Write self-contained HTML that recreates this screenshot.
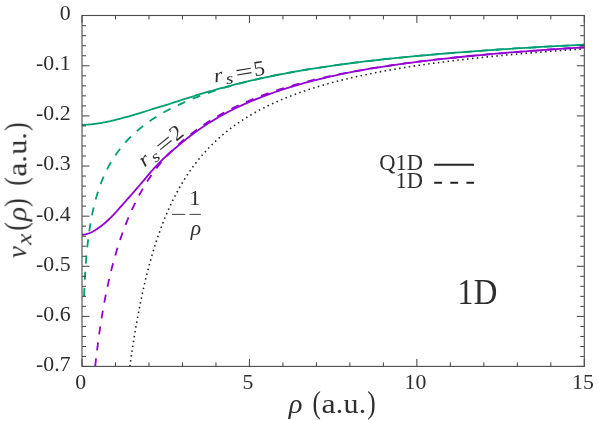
<!DOCTYPE html>
<html><head><meta charset="utf-8"><title>plot</title>
<style>
html,body{margin:0;padding:0;background:#fff;}
body{width:598px;height:421px;overflow:hidden;}
svg{display:block;font-family:"Liberation Serif",serif;}
text{fill:#2c2c2c;}
.i{font-style:italic;}
</style></head><body>
<svg width="598" height="421" viewBox="0 0 598 421">
<rect width="598" height="421" fill="#fff"/>
<defs><clipPath id="cp"><rect x="82.0" y="15.5" width="502.29999999999995" height="350.9"/></clipPath></defs>
<g clip-path="url(#cp)" fill="none" stroke-width="1.8" stroke-linejoin="round">
<path d="M129.84,366.40 L130.02,365.04 L131.59,353.99 L133.16,343.62 L134.73,333.86 L136.30,324.67 L137.86,315.99 L139.43,307.79 L141.00,300.02 L142.57,292.65 L144.14,285.66 L145.70,279.01 L147.27,272.68 L148.84,266.65 L150.41,260.89 L151.97,255.39 L153.54,250.13 L155.11,245.10 L156.68,240.28 L158.25,235.66 L159.81,231.22 L161.38,226.96 L162.95,222.87 L164.52,218.93 L166.09,215.13 L167.65,211.48 L169.22,207.96 L170.79,204.56 L172.36,201.28 L173.93,198.11 L175.49,195.05 L177.06,192.08 L178.63,189.22 L180.20,186.44 L181.77,183.76 L183.33,181.15 L184.90,178.63 L186.47,176.18 L188.04,173.81 L189.61,171.50 L191.17,169.26 L192.74,167.08 L194.31,164.97 L195.88,162.91 L197.45,160.91 L199.01,158.96 L200.58,157.06 L202.15,155.21 L203.72,153.41 L205.28,151.66 L206.85,149.95 L208.42,148.28 L209.99,146.66 L211.56,145.07 L213.12,143.52 L214.69,142.01 L216.26,140.53 L217.83,139.09 L219.40,137.68 L220.96,136.30 L222.53,134.95 L224.10,133.63 L225.67,132.34 L227.24,131.08 L228.80,129.85 L230.37,128.64 L231.94,127.45 L233.51,126.30 L235.08,125.16 L236.64,124.05 L238.21,122.96 L239.78,121.89 L241.35,120.84 L242.92,119.82 L244.48,118.81 L246.05,117.82 L247.62,116.86 L249.19,115.90 L250.75,114.97 L252.32,114.06 L253.89,113.16 L255.46,112.27 L257.03,111.41 L258.59,110.56 L260.16,109.72 L261.73,108.90 L263.30,108.09 L264.87,107.30 L266.43,106.52 L268.00,105.75 L269.57,104.99 L271.14,104.25 L272.71,103.52 L274.27,102.80 L275.84,102.10 L277.41,101.40 L278.98,100.72 L280.55,100.05 L282.11,99.38 L283.68,98.73 L285.25,98.09 L286.82,97.46 L288.39,96.84 L289.95,96.22 L291.52,95.62 L293.09,95.02 L294.66,94.44 L296.23,93.86 L297.79,93.29 L299.36,92.73 L300.93,92.18 L302.50,91.63 L304.06,91.09 L305.63,90.56 L307.20,90.04 L308.77,89.52 L310.34,89.02 L311.90,88.51 L313.47,88.02 L315.04,87.53 L316.61,87.05 L318.18,86.58 L319.74,86.11 L321.31,85.64 L322.88,85.19 L324.45,84.74 L326.02,84.29 L327.58,83.85 L329.15,83.42 L330.72,82.99 L332.29,82.57 L333.86,82.15 L335.42,81.74 L336.99,81.33 L338.56,80.93 L340.13,80.53 L341.70,80.14 L343.26,79.75 L344.83,79.37 L346.40,78.99 L347.97,78.61 L349.53,78.24 L351.10,77.88 L352.67,77.52 L354.24,77.16 L355.81,76.81 L357.37,76.46 L358.94,76.11 L360.51,75.77 L362.08,75.43 L363.65,75.10 L365.21,74.77 L366.78,74.44 L368.35,74.12 L369.92,73.80 L371.49,73.49 L373.05,73.17 L374.62,72.87 L376.19,72.56 L377.76,72.26 L379.33,71.96 L380.89,71.66 L382.46,71.37 L384.03,71.08 L385.60,70.79 L387.17,70.51 L388.73,70.23 L390.30,69.95 L391.87,69.67 L393.44,69.40 L395.01,69.13 L396.57,68.86 L398.14,68.60 L399.71,68.34 L401.28,68.08 L402.84,67.82 L404.41,67.56 L405.98,67.31 L407.55,67.06 L409.12,66.82 L410.68,66.57 L412.25,66.33 L413.82,66.09 L415.39,65.85 L416.96,65.62 L418.52,65.38 L420.09,65.15 L421.66,64.92 L423.23,64.69 L424.80,64.47 L426.36,64.25 L427.93,64.03 L429.50,63.81 L431.07,63.59 L432.64,63.37 L434.20,63.16 L435.77,62.95 L437.34,62.74 L438.91,62.53 L440.48,62.33 L442.04,62.12 L443.61,61.92 L445.18,61.72 L446.75,61.52 L448.32,61.33 L449.88,61.13 L451.45,60.94 L453.02,60.74 L454.59,60.55 L456.15,60.36 L457.72,60.18 L459.29,59.99 L460.86,59.81 L462.43,59.63 L463.99,59.44 L465.56,59.26 L467.13,59.09 L468.70,58.91 L470.27,58.73 L471.83,58.56 L473.40,58.39 L474.97,58.22 L476.54,58.05 L478.11,57.88 L479.67,57.71 L481.24,57.55 L482.81,57.38 L484.38,57.22 L485.95,57.06 L487.51,56.90 L489.08,56.74 L490.65,56.58 L492.22,56.42 L493.79,56.26 L495.35,56.11 L496.92,55.96 L498.49,55.80 L500.06,55.65 L501.62,55.50 L503.19,55.35 L504.76,55.21 L506.33,55.06 L507.90,54.91 L509.46,54.77 L511.03,54.63 L512.60,54.48 L514.17,54.34 L515.74,54.20 L517.30,54.06 L518.87,53.92 L520.44,53.79 L522.01,53.65 L523.58,53.51 L525.14,53.38 L526.71,53.25 L528.28,53.11 L529.85,52.98 L531.42,52.85 L532.98,52.72 L534.55,52.59 L536.12,52.46 L537.69,52.34 L539.26,52.21 L540.82,52.09 L542.39,51.96 L543.96,51.84 L545.53,51.71 L547.10,51.59 L548.66,51.47 L550.23,51.35 L551.80,51.23 L553.37,51.11 L554.93,50.99 L556.50,50.88 L558.07,50.76 L559.64,50.64 L561.21,50.53 L562.77,50.42 L564.34,50.30 L565.91,50.19 L567.48,50.08 L569.05,49.97 L570.61,49.86 L572.18,49.75 L573.75,49.64 L575.32,49.53 L576.89,49.42 L578.45,49.31 L580.02,49.21 L581.59,49.10 L583.16,49.00 L584.73,48.89 L586.29,48.79 L587.86,48.68 L589.43,48.58 L591.00,48.48" stroke="#222" stroke-width="1.6" stroke-dasharray="1.5 3.4"/>
<path d="M95.20,366.40 L95.39,364.59 L96.23,357.15 L97.07,350.15 L97.91,343.54 L98.74,337.28 L99.58,331.34 L100.42,325.69 L101.25,320.31 L102.09,315.16 L102.93,310.24 L103.77,305.52 L104.60,300.99 L105.44,296.64 L106.28,292.45 L107.11,288.41 L107.95,284.52 L108.79,280.76 L109.63,277.12 L110.46,273.61 L111.30,270.20 L112.14,266.90 L112.98,263.70 L113.81,260.60 L114.65,257.58 L115.49,254.65 L117.16,249.02 L118.84,243.69 L120.51,238.62 L122.18,233.81 L123.86,229.21 L125.53,224.82 L127.21,220.63 L128.88,216.61 L130.56,212.76 L132.23,209.07 L133.90,205.51 L135.58,202.10 L137.25,198.81 L138.93,195.64 L140.60,192.58 L142.28,189.63 L143.95,186.77 L145.62,184.01 L147.30,181.35 L148.97,178.76 L150.65,176.26 L152.32,173.85 L154.00,171.51 L155.67,169.26 L157.34,167.08 L159.02,164.97 L160.69,162.92 L162.37,160.93 L164.04,159.00 L165.72,157.11 L167.39,155.29 L169.07,153.52 L170.74,151.80 L172.41,150.13 L174.09,148.50 L175.76,146.91 L177.44,145.36 L179.11,143.84 L180.79,142.35 L182.46,140.89 L184.13,139.48 L185.81,138.09 L187.48,136.74 L189.16,135.42 L190.83,134.12 L192.51,132.85 L194.18,131.60 L195.85,130.38 L197.53,129.17 L199.20,127.98 L200.88,126.80 L202.55,125.65 L204.23,124.52 L205.90,123.41 L207.57,122.32 L209.25,121.25 L210.92,120.20 L212.60,119.16 L214.27,118.15 L215.95,117.15 L217.62,116.18 L219.30,115.21 L220.97,114.27 L222.64,113.34 L224.32,112.43 L225.99,111.53 L227.67,110.65 L229.34,109.79 L231.02,108.94 L232.69,108.10 L234.36,107.28 L236.04,106.48 L237.71,105.69 L239.39,104.91 L241.06,104.14 L242.74,103.39 L244.41,102.65 L246.08,101.92 L247.76,101.21 L249.43,100.50 L254.46,98.45 L259.48,96.48 L264.50,94.61 L269.53,92.82 L274.55,91.10 L279.57,89.45 L284.59,87.88 L289.62,86.37 L294.64,84.92 L299.66,83.53 L304.69,82.20 L309.71,80.91 L314.73,79.68 L319.76,78.48 L324.78,77.33 L329.80,76.22 L334.82,75.15 L339.85,74.12 L344.87,73.12 L349.89,72.15 L354.92,71.22 L359.94,70.32 L364.96,69.45 L369.99,68.60 L375.01,67.79 L380.03,67.00 L385.05,66.23 L390.08,65.49 L395.10,64.77 L400.12,64.07 L405.15,63.38 L410.17,62.72 L415.19,62.08 L420.22,61.45 L425.24,60.84 L430.26,60.24 L435.28,59.66 L440.31,59.10 L445.33,58.55 L450.35,58.01 L455.38,57.49 L460.40,56.98 L465.42,56.48 L470.45,55.99 L475.47,55.52 L480.49,55.06 L485.51,54.60 L490.54,54.16 L495.56,53.72 L500.58,53.30 L505.61,52.88 L510.63,52.47 L515.65,52.07 L520.68,51.68 L525.70,51.30 L530.72,50.92 L535.74,50.55 L540.77,50.19 L545.79,49.83 L550.81,49.48 L555.84,49.14 L560.86,48.81 L565.88,48.48 L570.91,48.15 L575.93,47.84 L580.95,47.53 L585.97,47.22 L591.00,46.92" stroke="#9400d3" stroke-dasharray="8 8.13"/>
<path d="M82.00,234.76 L82.17,234.75 L82.33,234.73 L82.50,234.71 L82.67,234.69 L82.84,234.67 L83.67,234.56 L84.51,234.43 L85.35,234.27 L86.19,234.08 L87.02,233.87 L87.86,233.63 L88.70,233.36 L89.53,233.06 L90.37,232.73 L91.21,232.36 L92.05,231.96 L92.88,231.52 L93.72,231.05 L94.56,230.55 L95.39,230.03 L96.23,229.48 L97.07,228.92 L97.91,228.34 L98.74,227.75 L99.58,227.15 L100.42,226.55 L101.25,225.92 L102.09,225.28 L102.93,224.61 L103.77,223.93 L104.60,223.23 L105.44,222.52 L106.28,221.78 L107.11,221.03 L107.95,220.27 L108.79,219.48 L109.63,218.68 L110.46,217.86 L111.30,217.02 L112.14,216.17 L112.98,215.30 L113.81,214.42 L114.65,213.52 L115.49,212.61 L117.16,210.76 L118.84,208.87 L120.51,206.95 L122.18,205.05 L123.86,203.16 L125.53,201.29 L127.21,199.42 L128.88,197.55 L130.56,195.66 L132.23,193.76 L133.90,191.84 L135.58,189.88 L137.25,187.93 L138.93,185.98 L140.60,184.03 L142.28,182.07 L143.95,180.10 L145.62,178.10 L147.30,176.10 L148.97,174.11 L150.65,172.16 L152.32,170.24 L154.00,168.37 L155.67,166.54 L157.34,164.76 L159.02,163.02 L160.69,161.33 L162.37,159.70 L164.04,158.12 L165.72,156.55 L167.39,155.01 L169.07,153.50 L170.74,152.03 L172.41,150.58 L174.09,149.15 L175.76,147.74 L177.44,146.32 L179.11,144.91 L180.79,143.50 L182.46,142.11 L184.13,140.74 L185.81,139.40 L187.48,138.08 L189.16,136.79 L190.83,135.52 L192.51,134.27 L194.18,133.03 L195.85,131.82 L197.53,130.62 L199.20,129.44 L200.88,128.27 L202.55,127.12 L204.23,126.00 L205.90,124.89 L207.57,123.81 L209.25,122.74 L210.92,121.69 L212.60,120.67 L214.27,119.66 L215.95,118.66 L217.62,117.69 L219.30,116.73 L220.97,115.79 L222.64,114.86 L224.32,113.95 L225.99,113.05 L227.67,112.17 L229.34,111.31 L231.02,110.46 L232.69,109.62 L234.36,108.80 L236.04,107.99 L237.71,107.19 L239.39,106.41 L241.06,105.64 L242.74,104.88 L244.41,104.13 L246.08,103.39 L247.76,102.66 L249.43,101.94 L254.46,99.84 L259.48,97.83 L264.50,95.90 L269.53,94.05 L274.55,92.27 L279.57,90.55 L284.59,88.90 L289.62,87.31 L294.64,85.79 L299.66,84.34 L304.69,82.95 L309.71,81.60 L314.73,80.31 L319.76,79.06 L324.78,77.85 L329.80,76.69 L334.82,75.56 L339.85,74.48 L344.87,73.43 L349.89,72.42 L354.92,71.45 L359.94,70.51 L364.96,69.60 L369.99,68.73 L375.01,67.90 L380.03,67.10 L385.05,66.32 L390.08,65.57 L395.10,64.84 L400.12,64.13 L405.15,63.45 L410.17,62.78 L415.19,62.13 L420.22,61.50 L425.24,60.88 L430.26,60.28 L435.28,59.70 L440.31,59.13 L445.33,58.58 L450.35,58.04 L455.38,57.51 L460.40,57.00 L465.42,56.49 L470.45,56.00 L475.47,55.52 L480.49,55.06 L485.51,54.60 L490.54,54.15 L495.56,53.71 L500.58,53.28 L505.61,52.86 L510.63,52.45 L515.65,52.05 L520.68,51.66 L525.70,51.28 L530.72,50.90 L535.74,50.53 L540.77,50.17 L545.79,49.81 L550.81,49.47 L555.84,49.13 L560.86,48.79 L565.88,48.47 L570.91,48.15 L575.93,47.83 L580.95,47.52 L585.97,47.22 L591.00,46.92" stroke="#9400d3"/>
<path d="M84.03,296.00 L84.51,284.40 L85.35,269.98 L86.19,258.80 L87.02,249.67 L87.86,241.95 L88.70,235.26 L89.53,229.37 L90.37,224.09 L91.21,219.33 L92.05,214.97 L92.88,210.97 L93.72,207.27 L94.56,203.82 L95.39,200.60 L96.23,197.58 L97.07,194.73 L97.91,192.03 L98.74,189.48 L99.58,187.05 L100.42,184.73 L101.25,182.52 L102.09,180.40 L102.93,178.37 L103.77,176.43 L104.60,174.55 L105.44,172.75 L106.28,171.01 L107.11,169.33 L107.95,167.71 L108.79,166.14 L109.63,164.62 L110.46,163.14 L111.30,161.71 L112.14,160.32 L112.98,158.97 L113.81,157.66 L114.65,156.38 L115.49,155.14 L117.16,152.74 L118.84,150.46 L120.51,148.28 L122.18,146.20 L123.86,144.21 L125.53,142.30 L127.21,140.47 L128.88,138.70 L130.56,137.00 L132.23,135.36 L133.90,133.78 L135.58,132.25 L137.25,130.78 L138.93,129.34 L140.60,127.96 L142.28,126.61 L143.95,125.30 L145.62,124.04 L147.30,122.80 L148.97,121.60 L150.65,120.44 L152.32,119.31 L154.00,118.21 L155.67,117.14 L157.34,116.11 L159.02,115.10 L160.69,114.12 L162.37,113.16 L164.04,112.23 L165.72,111.32 L167.39,110.43 L169.07,109.56 L170.74,108.70 L172.41,107.87 L174.09,107.05 L175.76,106.24 L177.44,105.44 L179.11,104.66 L180.79,103.88 L182.46,103.12 L184.13,102.37 L185.81,101.64 L187.48,100.92 L189.16,100.21 L190.83,99.52 L192.51,98.83 L194.18,98.16 L195.85,97.50 L197.53,96.85 L199.20,96.21 L200.88,95.58 L202.55,94.97 L204.23,94.36 L205.90,93.76 L207.57,93.17 L209.25,92.59 L210.92,92.02 L212.60,91.46 L214.27,90.90 L215.95,90.36 L217.62,89.82 L219.30,89.29 L220.97,88.77 L222.64,88.26 L224.32,87.76 L225.99,87.26 L227.67,86.77 L229.34,86.29 L231.02,85.82 L232.69,85.35 L234.36,84.89 L236.04,84.44 L237.71,83.99 L239.39,83.55 L241.06,83.11 L242.74,82.68 L244.41,82.26 L246.08,81.84 L247.76,81.43 L249.43,81.02 L254.46,79.84 L259.48,78.69 L264.50,77.59 L269.53,76.53 L274.55,75.50 L279.57,74.51 L284.59,73.55 L289.62,72.62 L294.64,71.71 L299.66,70.84 L304.69,69.99 L309.71,69.16 L314.73,68.36 L319.76,67.58 L324.78,66.82 L329.80,66.09 L334.82,65.38 L339.85,64.68 L344.87,64.01 L349.89,63.35 L354.92,62.71 L359.94,62.09 L364.96,61.48 L369.99,60.89 L375.01,60.31 L380.03,59.75 L385.05,59.20 L390.08,58.66 L395.10,58.14 L400.12,57.63 L405.15,57.13 L410.17,56.64 L415.19,56.16 L420.22,55.70 L425.24,55.24 L430.26,54.80 L435.28,54.36 L440.31,53.93 L445.33,53.51 L450.35,53.10 L455.38,52.70 L460.40,52.31 L465.42,51.93 L470.45,51.55 L475.47,51.18 L480.49,50.82 L485.51,50.46 L490.54,50.11 L495.56,49.77 L500.58,49.43 L505.61,49.10 L510.63,48.78 L515.65,48.46 L520.68,48.15 L525.70,47.85 L530.72,47.54 L535.74,47.25 L540.77,46.96 L545.79,46.67 L550.81,46.39 L555.84,46.11 L560.86,45.84 L565.88,45.57 L570.91,45.31 L575.93,45.05 L580.95,44.80 L585.97,44.55 L591.00,44.30" stroke="#009e73" stroke-dasharray="8.1 8.12"/>
<path d="M82.00,124.88 L82.17,124.87 L82.33,124.87 L82.50,124.86 L82.67,124.86 L82.84,124.85 L83.67,124.81 L84.51,124.77 L85.35,124.73 L86.19,124.68 L87.02,124.62 L87.86,124.56 L88.70,124.50 L89.53,124.43 L90.37,124.36 L91.21,124.28 L92.05,124.19 L92.88,124.11 L93.72,124.01 L94.56,123.91 L95.39,123.81 L96.23,123.70 L97.07,123.58 L97.91,123.46 L98.74,123.34 L99.58,123.21 L100.42,123.07 L101.25,122.93 L102.09,122.79 L102.93,122.64 L103.77,122.48 L104.60,122.32 L105.44,122.16 L106.28,122.00 L107.11,121.83 L107.95,121.65 L108.79,121.48 L109.63,121.30 L110.46,121.11 L111.30,120.93 L112.14,120.73 L112.98,120.54 L113.81,120.33 L114.65,120.13 L115.49,119.92 L117.16,119.49 L118.84,119.05 L120.51,118.61 L122.18,118.15 L123.86,117.70 L125.53,117.24 L127.21,116.78 L128.88,116.30 L130.56,115.82 L132.23,115.32 L133.90,114.82 L135.58,114.32 L137.25,113.81 L138.93,113.30 L140.60,112.78 L142.28,112.27 L143.95,111.77 L145.62,111.26 L147.30,110.76 L148.97,110.25 L150.65,109.74 L152.32,109.23 L154.00,108.72 L155.67,108.19 L157.34,107.68 L159.02,107.16 L160.69,106.64 L162.37,106.13 L164.04,105.61 L165.72,105.10 L167.39,104.57 L169.07,104.04 L170.74,103.51 L172.41,102.97 L174.09,102.43 L175.76,101.88 L177.44,101.34 L179.11,100.80 L180.79,100.26 L182.46,99.72 L184.13,99.18 L185.81,98.64 L187.48,98.11 L189.16,97.58 L190.83,97.05 L192.51,96.52 L194.18,96.00 L195.85,95.48 L197.53,94.96 L199.20,94.45 L200.88,93.94 L202.55,93.44 L204.23,92.94 L205.90,92.45 L207.57,91.96 L209.25,91.48 L210.92,91.00 L212.60,90.53 L214.27,90.06 L215.95,89.59 L217.62,89.13 L219.30,88.67 L220.97,88.21 L222.64,87.76 L224.32,87.31 L225.99,86.86 L227.67,86.41 L229.34,85.96 L231.02,85.52 L232.69,85.08 L234.36,84.64 L236.04,84.21 L237.71,83.79 L239.39,83.36 L241.06,82.95 L242.74,82.53 L244.41,82.13 L246.08,81.72 L247.76,81.32 L249.43,80.93 L254.46,79.77 L259.48,78.65 L264.50,77.56 L269.53,76.51 L274.55,75.49 L279.57,74.50 L284.59,73.54 L289.62,72.61 L294.64,71.71 L299.66,70.84 L304.69,69.98 L309.71,69.16 L314.73,68.36 L319.76,67.58 L324.78,66.82 L329.80,66.09 L334.82,65.38 L339.85,64.68 L344.87,64.01 L349.89,63.35 L354.92,62.71 L359.94,62.09 L364.96,61.48 L369.99,60.89 L375.01,60.31 L380.03,59.75 L385.05,59.20 L390.08,58.66 L395.10,58.14 L400.12,57.63 L405.15,57.13 L410.17,56.64 L415.19,56.16 L420.22,55.70 L425.24,55.24 L430.26,54.80 L435.28,54.36 L440.31,53.93 L445.33,53.51 L450.35,53.10 L455.38,52.70 L460.40,52.31 L465.42,51.93 L470.45,51.55 L475.47,51.18 L480.49,50.82 L485.51,50.46 L490.54,50.11 L495.56,49.77 L500.58,49.43 L505.61,49.10 L510.63,48.78 L515.65,48.46 L520.68,48.15 L525.70,47.85 L530.72,47.54 L535.74,47.25 L540.77,46.96 L545.79,46.67 L550.81,46.39 L555.84,46.11 L560.86,45.84 L565.88,45.57 L570.91,45.31 L575.93,45.05 L580.95,44.80 L585.97,44.55 L591.00,44.30" stroke="#009e73"/>
</g>
<path d="M82.00,366.40 v-7.50 M82.00,15.50 v7.50 M115.49,366.40 v-4.00 M115.49,15.50 v4.00 M148.97,366.40 v-4.00 M148.97,15.50 v4.00 M182.46,366.40 v-4.00 M182.46,15.50 v4.00 M215.95,366.40 v-4.00 M215.95,15.50 v4.00 M249.43,366.40 v-7.50 M249.43,15.50 v7.50 M282.92,366.40 v-4.00 M282.92,15.50 v4.00 M316.41,366.40 v-4.00 M316.41,15.50 v4.00 M349.89,366.40 v-4.00 M349.89,15.50 v4.00 M383.38,366.40 v-4.00 M383.38,15.50 v4.00 M416.87,366.40 v-7.50 M416.87,15.50 v7.50 M450.35,366.40 v-4.00 M450.35,15.50 v4.00 M483.84,366.40 v-4.00 M483.84,15.50 v4.00 M517.33,366.40 v-4.00 M517.33,15.50 v4.00 M550.81,366.40 v-4.00 M550.81,15.50 v4.00 M584.30,366.40 v-7.50 M584.30,15.50 v7.50 M82.00,15.50 h7.50 M584.30,15.50 h-7.50 M82.00,25.68 h4.00 M584.30,25.68 h-4.00 M82.00,35.70 h4.00 M584.30,35.70 h-4.00 M82.00,45.73 h4.00 M584.30,45.73 h-4.00 M82.00,55.75 h4.00 M584.30,55.75 h-4.00 M82.00,65.78 h7.50 M584.30,65.78 h-7.50 M82.00,75.80 h4.00 M584.30,75.80 h-4.00 M82.00,85.83 h4.00 M584.30,85.83 h-4.00 M82.00,95.86 h4.00 M584.30,95.86 h-4.00 M82.00,105.88 h4.00 M584.30,105.88 h-4.00 M82.00,115.91 h7.50 M584.30,115.91 h-7.50 M82.00,125.93 h4.00 M584.30,125.93 h-4.00 M82.00,135.96 h4.00 M584.30,135.96 h-4.00 M82.00,145.98 h4.00 M584.30,145.98 h-4.00 M82.00,156.01 h4.00 M584.30,156.01 h-4.00 M82.00,166.04 h7.50 M584.30,166.04 h-7.50 M82.00,176.06 h4.00 M584.30,176.06 h-4.00 M82.00,186.09 h4.00 M584.30,186.09 h-4.00 M82.00,196.11 h4.00 M584.30,196.11 h-4.00 M82.00,206.14 h4.00 M584.30,206.14 h-4.00 M82.00,216.16 h7.50 M584.30,216.16 h-7.50 M82.00,226.19 h4.00 M584.30,226.19 h-4.00 M82.00,236.22 h4.00 M584.30,236.22 h-4.00 M82.00,246.24 h4.00 M584.30,246.24 h-4.00 M82.00,256.27 h4.00 M584.30,256.27 h-4.00 M82.00,266.29 h7.50 M584.30,266.29 h-7.50 M82.00,276.32 h4.00 M584.30,276.32 h-4.00 M82.00,286.34 h4.00 M584.30,286.34 h-4.00 M82.00,296.37 h4.00 M584.30,296.37 h-4.00 M82.00,306.40 h4.00 M584.30,306.40 h-4.00 M82.00,316.42 h7.50 M584.30,316.42 h-7.50 M82.00,326.45 h4.00 M584.30,326.45 h-4.00 M82.00,336.47 h4.00 M584.30,336.47 h-4.00 M82.00,346.50 h4.00 M584.30,346.50 h-4.00 M82.00,356.52 h4.00 M584.30,356.52 h-4.00 M82.00,366.40 h7.50 M584.30,366.40 h-7.50" stroke="#2a2a2a" stroke-width="0.9" fill="none"/>
<rect x="82.0" y="15.5" width="502.29999999999995" height="350.9" fill="none" stroke="#4c4c4c" stroke-width="1.1"/>
<g style="opacity:.99"><g font-size="21.8">
<text x="70.6" y="20.10" text-anchor="end">0</text>
<text x="70.6" y="70.23" text-anchor="end">-0.1</text>
<text x="70.6" y="120.36" text-anchor="end">-0.2</text>
<text x="70.6" y="170.49" text-anchor="end">-0.3</text>
<text x="70.6" y="220.61" text-anchor="end">-0.4</text>
<text x="70.6" y="270.74" text-anchor="end">-0.5</text>
<text x="70.6" y="320.87" text-anchor="end">-0.6</text>
<text x="70.6" y="371.00" text-anchor="end">-0.7</text>
<text x="80.60" y="389.4" text-anchor="middle">0</text>
<text x="248.03" y="389.4" text-anchor="middle">5</text>
<text x="415.47" y="389.4" text-anchor="middle">10</text>
<text x="582.90" y="389.4" text-anchor="middle">15</text>
</g>
<g font-size="22.5">
<text x="422.9" y="169.7" text-anchor="end">Q1D</text>
<text x="422.9" y="187.7" text-anchor="end">1D</text>
</g>
<path d="M434.2,164.7 H474" stroke="#222" stroke-width="1.9"/>
<path d="M434.2,182.7 H474" stroke="#222" stroke-width="1.9" stroke-dasharray="7.8 8.3"/>
<g><text font-size="35.50" transform="translate(457.50,303.90) scale(0.896,1)">1</text><text font-size="35.50" transform="translate(473.86,303.90) scale(0.923,1)">D</text></g>
<g><text class="i" font-size="28.00" transform="translate(288.73,412.50) scale(1.022,1)">ρ</text><text font-size="31.00" transform="translate(312.49,412.50) scale(0.816,1)">(</text><text font-size="28.00" transform="translate(321.48,412.50) scale(1.139,1)">a</text><text font-size="28.00" transform="translate(335.65,412.50) scale(1.058,1)">.</text><text font-size="28.00" transform="translate(343.60,412.50) scale(1.072,1)">u</text><text font-size="28.00" transform="translate(358.65,412.50) scale(1.058,1)">.</text><text font-size="31.00" transform="translate(367.28,412.50) scale(0.816,1)">)</text></g>
<g transform="translate(26.3,257.9) rotate(-90)"><text class="i" font-size="28.00" transform="translate(-0.17,0.00) scale(0.971,1)">v</text><text class="i" font-size="20.00" transform="translate(13.02,5.20) scale(1.293,1)">x</text><text font-size="31.00" transform="translate(27.37,0.00) scale(0.829,1)">(</text><text class="i" font-size="28.00" transform="translate(36.75,0.00) scale(1.060,1)">ρ</text><text font-size="31.00" transform="translate(50.97,0.00) scale(0.829,1)">)</text><text font-size="31.00" transform="translate(72.19,0.00) scale(0.816,1)">(</text><text font-size="28.00" transform="translate(81.18,0.00) scale(1.139,1)">a</text><text font-size="28.00" transform="translate(95.35,0.00) scale(1.058,1)">.</text><text font-size="28.00" transform="translate(103.30,0.00) scale(1.072,1)">u</text><text font-size="28.00" transform="translate(118.35,0.00) scale(1.058,1)">.</text><text font-size="31.00" transform="translate(126.98,0.00) scale(0.816,1)">)</text></g>
<g transform="translate(214.1,82.7) rotate(-9.2)"><text class="i" font-size="20.20" transform="translate(0.57,0.00) scale(1.141,1)">r</text><text class="i" font-size="15.50" transform="translate(11.96,3.40) scale(1.265,1)">s</text><text font-size="22.00" transform="translate(22.55,1.10) scale(1.416,1)">=</text><text font-size="21.50" transform="translate(41.10,0.00) scale(1.039,1)">5</text></g>
<g transform="translate(144.1,167.8) rotate(-39)"><text class="i" font-size="20.20" transform="translate(0.57,0.00) scale(1.141,1)">r</text><text class="i" font-size="15.50" transform="translate(11.96,3.40) scale(1.265,1)">s</text><text font-size="22.00" transform="translate(22.55,1.10) scale(1.416,1)">=</text><text font-size="21.50" transform="translate(41.41,0.00) scale(1.044,1)">2</text></g>
<g><text font-size="21.50" transform="translate(189.13,205.30) scale(1.044,1)">1</text><text class="i" font-size="21.50" transform="translate(190.65,234.90) scale(0.999,1)">ρ</text>
<path d="M189.6,214.4 H200.8 M172,214.4 H185.3" stroke="#2c2c2c" stroke-width="0.9"/>
</g>
</g>
</svg>
</body></html>
